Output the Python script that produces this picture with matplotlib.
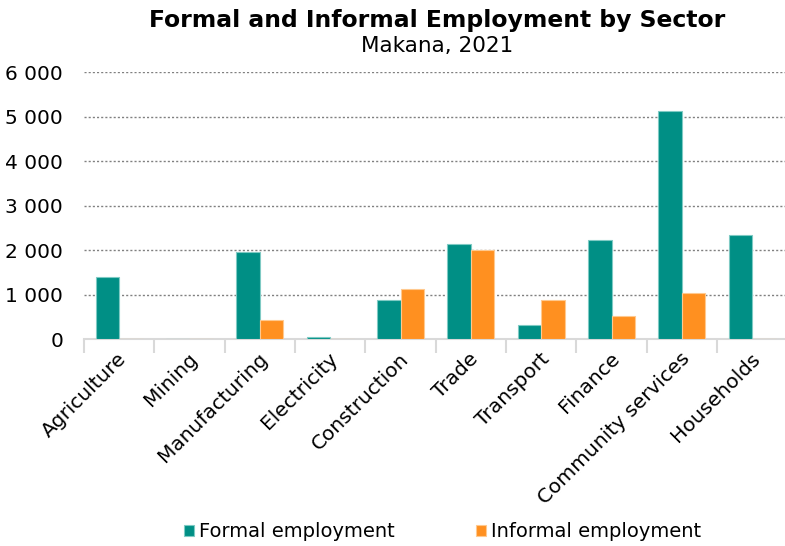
import matplotlib.pyplot as plt
import numpy as np
from matplotlib.ticker import FuncFormatter
from matplotlib.transforms import ScaledTranslation

sectors = ["Agriculture", "Mining", "Manufacturing", "Electricity", "Construction",
           "Trade", "Transport", "Finance", "Community services", "Households"]
formal = [1400, 8, 1970, 45, 885, 2135, 330, 2240, 5125, 2335]
informal = [0, 0, 425, 0, 1125, 2015, 885, 515, 1045, 0]

teal = "#008F85"
orange = "#FF9020"

fig = plt.figure(figsize=(7.85, 5.46), dpi=100)
ax = fig.add_axes([0.107, 0.3786, 0.896, 0.4890])

x = np.arange(len(sectors))
w = 0.335
ax.bar(x - w / 2, formal, w, color=teal, edgecolor="#7FCAC4", linewidth=0.8,
       label="Formal employment", zorder=3)
ax.bar(x + w / 2, informal, w, color=orange, edgecolor="#FFC98F", linewidth=0.8,
       label="Informal employment", zorder=3)

ax.set_xlim(-0.5, len(sectors) - 0.5)
ax.set_ylim(0, 6000)
ax.set_yticks(range(0, 6001, 1000))
ax.yaxis.set_major_formatter(FuncFormatter(lambda v, p: f"{int(v):,}".replace(",", " ")))
ax.grid(axis="y", color="#808080", linestyle=(0, (1.5, 1.5)), linewidth=1.0, zorder=0)

for s in ["top", "right", "left"]:
    ax.spines[s].set_visible(False)
ax.spines["bottom"].set_color("#D9D9D9")
ax.spines["bottom"].set_linewidth(1.5)

ax.set_xticks(x)
ax.set_xticklabels(sectors, rotation=45, ha="right", va="center", rotation_mode="anchor",
                   fontsize=14.5)
ax.tick_params(axis="x", length=0, pad=12)
ax.set_xticks(np.arange(-0.5, len(sectors), 1), minor=True)
ax.tick_params(axis="x", which="minor", length=10, color="#D9D9D9", width=1.5)
ax.tick_params(axis="y", length=0, labelsize=14.5, pad=15)

# nudge the rotated labels a little to the right
offset = ScaledTranslation(3.5 / 72, 0, fig.dpi_scale_trans)
for lab in ax.get_xticklabels():
    lab.set_transform(lab.get_transform() + offset)

cx = 0.557
fig.text(cx, 0.962, "Formal and Informal Employment by Sector", ha="center", va="center",
         fontsize=16.9, fontweight="bold")
fig.text(cx, 0.915, "Makana, 2021", ha="center", va="center", fontsize=15.5)

fig.legend(loc="center", bbox_to_anchor=(0.564, 0.026), ncol=2, frameon=False,
           fontsize=14, handlelength=0.5, handleheight=0.5, handletextpad=0.25,
           columnspacing=4.2)

fig.savefig("out.png", dpi=100)
